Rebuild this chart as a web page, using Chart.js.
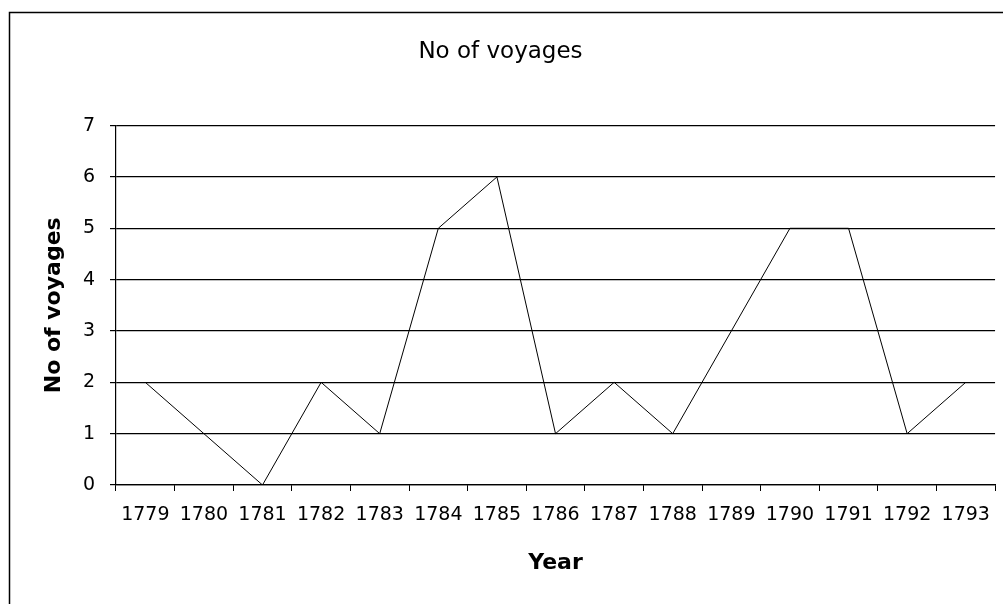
<!DOCTYPE html>
<html>
<head>
<meta charset="utf-8">
<script src="https://cdn.jsdelivr.net/npm/chart.js@4/dist/chart.umd.min.js"></script>
<style>
  html, body { margin: 0; padding: 0; background: #fff; }
  #wrap { width: 1003px; height: 604px; }
</style>
</head>
<body>
<div id="wrap"><canvas id="voyageChart"></canvas></div>
<script>
// values
const years = ['1779', '1780', '1781', '1782', '1783', '1784', '1785', '1786',
               '1787', '1788', '1789', '1790', '1791', '1792', '1793'];
const voyages = [2, 1, 0, 2, 1, 5, 6, 1, 2, 1, 3, 5, 5, 1, 2];
const yTicks = [0, 1, 2, 3, 4, 5, 6, 7];

const FONT = "'DejaVu Sans', sans-serif";

// thin frame round the chart, like the spreadsheet export
const framePlugin = {
    id: 'frame',
    beforeDraw(chart) {
        const c = chart.ctx;
        c.save();
        c.fillStyle = '#fff';
        c.fillRect(0, 0, chart.width, chart.height);
        c.strokeStyle = '#000';
        c.lineWidth = 1.5;
        c.strokeRect(9.5, 12.5, 1200, 1200);
        c.restore();
    }
};

new Chart(document.getElementById('voyageChart'), {
    type: 'line',
    data: {
        labels: years,
        datasets: [{
            label: 'No of voyages',
            data: voyages,
            borderColor: '#000',
            borderWidth: 1,
            pointRadius: 0,
            tension: 0,
            fill: false
        }]
    },
    options: {
        responsive: true,
        maintainAspectRatio: false,
        animation: false,
        layout: { padding: { left: 0, right: 2, top: 0, bottom: 0 } },
        plugins: {
            legend: { display: false },
            tooltip: { enabled: false },
            title: {
                display: true,
                text: 'No of voyages',
                color: '#000',
                font: { family: FONT, size: 23, weight: 'normal' },
                padding: { top: 38, bottom: 60 }
            }
        },
        scales: {
            x: {
                offset: true,
                afterFit: (s) => { s.height = 119; },
                grid: {
                    offset: true,
                    drawOnChartArea: false,
                    drawTicks: true,
                    tickLength: 6,
                    color: '#000'
                },
                border: { color: '#000', width: 1.2 },
                ticks: {
                    color: '#000',
                    padding: 13,
                    maxRotation: 0,
                    autoSkip: false,
                    font: { family: FONT, size: 19 }
                },
                title: {
                    display: true,
                    text: 'Year',
                    color: '#000',
                    font: { family: FONT, size: 22, weight: 'bold' },
                    padding: { top: 0, bottom: 28 }
                }
            },
            y: {
                min: 0,
                max: 7,
                afterFit: (s) => { s.width = 116; },
                afterBuildTicks: (s) => { s.ticks = yTicks.map(v => ({ value: v })); },
                grid: {
                    color: '#000',
                    lineWidth: 1.2,
                    tickLength: 6
                },
                border: { color: '#000', width: 1.2 },
                ticks: {
                    color: '#000',
                    padding: 15,
                    font: { family: FONT, size: 19 }
                },
                title: {
                    display: true,
                    text: 'No of voyages',
                    color: '#000',
                    font: { family: FONT, size: 22, weight: 'bold' },
                    padding: { top: 41, bottom: 0 }
                }
            }
        }
    },
    plugins: [framePlugin]
});
</script>
</body>
</html>
